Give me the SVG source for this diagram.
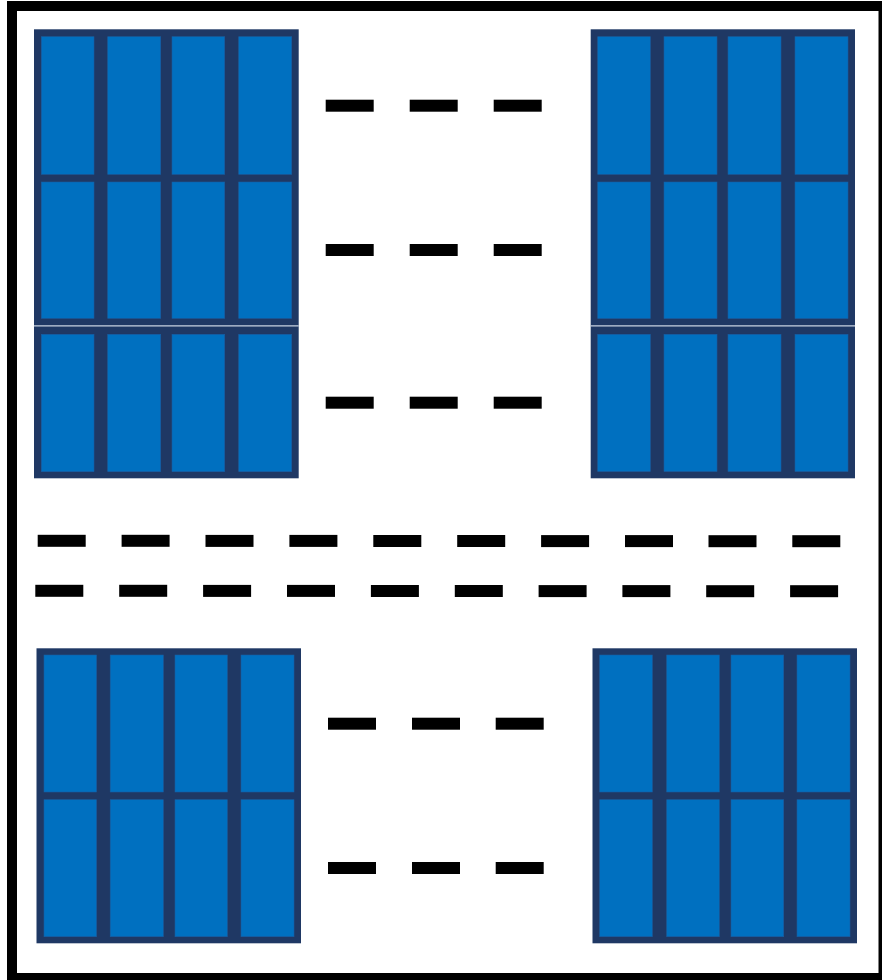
<svg xmlns="http://www.w3.org/2000/svg" width="882" height="980" viewBox="0 0 882 980">
  <style>
    .frame { fill: #1f3864; }
    .cell { fill: #0070c0; stroke: #1a5da0; stroke-width: 0.6; }
    .seam { stroke: #c9d2e0; stroke-width: 1.2; }
    .dash { fill: #000000; }
    .border { fill: none; stroke: #000000; stroke-width: 10; }
  </style>
  <rect x="0" y="0" width="882" height="980" fill="#ffffff"/>
  <rect class="border" x="12" y="6" width="871.5" height="972"/>

  <g id="block-top-left">
    <rect class="frame" x="34" y="29.3" width="264.7" height="449"/>
    <rect class="cell" x="41.3" y="36.7" width="52.7" height="137.6"/>
    <rect class="cell" x="107.7" y="36.7" width="53" height="137.6"/>
    <rect class="cell" x="172" y="36.7" width="52.7" height="137.6"/>
    <rect class="cell" x="238.7" y="36.7" width="53" height="137.6"/>
    <rect class="cell" x="41.3" y="182" width="52.7" height="136.3"/>
    <rect class="cell" x="107.7" y="182" width="53" height="136.3"/>
    <rect class="cell" x="172" y="182" width="52.7" height="136.3"/>
    <rect class="cell" x="238.7" y="182" width="53" height="136.3"/>
    <rect class="cell" x="41.3" y="334.3" width="52.7" height="137.4"/>
    <rect class="cell" x="107.7" y="334.3" width="53" height="137.4"/>
    <rect class="cell" x="172" y="334.3" width="52.7" height="137.4"/>
    <rect class="cell" x="238.7" y="334.3" width="53" height="137.4"/>
    <line class="seam" x1="34" y1="325.9" x2="298.7" y2="325.9"/>
  </g>

  <g id="block-top-right">
    <rect class="frame" x="590.7" y="29.3" width="264.3" height="449"/>
    <rect class="cell" x="597.7" y="36.7" width="52.6" height="137.6"/>
    <rect class="cell" x="664" y="36.7" width="53" height="137.6"/>
    <rect class="cell" x="728" y="36.7" width="53" height="137.6"/>
    <rect class="cell" x="795" y="36.7" width="53" height="137.6"/>
    <rect class="cell" x="597.7" y="182" width="52.6" height="136.5"/>
    <rect class="cell" x="664" y="182" width="53" height="136.5"/>
    <rect class="cell" x="728" y="182" width="53" height="136.5"/>
    <rect class="cell" x="795" y="182" width="53" height="136.5"/>
    <rect class="cell" x="597.7" y="334.3" width="52.6" height="137.2"/>
    <rect class="cell" x="664" y="334.3" width="53" height="137.2"/>
    <rect class="cell" x="728" y="334.3" width="53" height="137.2"/>
    <rect class="cell" x="795" y="334.3" width="53" height="137.2"/>
    <line class="seam" x1="590.7" y1="325.9" x2="855" y2="325.9"/>
  </g>

  <g id="block-bottom-left">
    <rect class="frame" x="36.5" y="648.3" width="264.5" height="295"/>
    <rect class="cell" x="44" y="655" width="52.5" height="137"/>
    <rect class="cell" x="110.2" y="655" width="53.1" height="137"/>
    <rect class="cell" x="175" y="655" width="52.3" height="137"/>
    <rect class="cell" x="241" y="655" width="53" height="137"/>
    <rect class="cell" x="44" y="799.7" width="52.5" height="137"/>
    <rect class="cell" x="110.2" y="799.7" width="53.1" height="137"/>
    <rect class="cell" x="175" y="799.7" width="52.3" height="137"/>
    <rect class="cell" x="241" y="799.7" width="53" height="137"/>
  </g>

  <g id="block-bottom-right">
    <rect class="frame" x="592.5" y="648.3" width="264.5" height="295"/>
    <rect class="cell" x="599.7" y="655" width="52.6" height="137"/>
    <rect class="cell" x="666.7" y="655" width="52.6" height="137"/>
    <rect class="cell" x="731" y="655" width="52.7" height="137"/>
    <rect class="cell" x="797" y="655" width="53" height="137"/>
    <rect class="cell" x="599.7" y="799.7" width="52.6" height="137"/>
    <rect class="cell" x="666.7" y="799.7" width="52.6" height="137"/>
    <rect class="cell" x="731" y="799.7" width="52.7" height="137"/>
    <rect class="cell" x="797" y="799.7" width="53" height="137"/>
  </g>

  <g id="connectors">
    <!-- top dashes -->
    <rect class="dash" x="325.7" y="99.7" width="48" height="12"/>
    <rect class="dash" x="409.7" y="99.7" width="48" height="12"/>
    <rect class="dash" x="493.7" y="99.7" width="48" height="12"/>
    <rect class="dash" x="325.7" y="244" width="48" height="12"/>
    <rect class="dash" x="409.7" y="244" width="48" height="12"/>
    <rect class="dash" x="493.7" y="244" width="48" height="12"/>
    <rect class="dash" x="325.7" y="396.7" width="48" height="12"/>
    <rect class="dash" x="409.7" y="396.7" width="48" height="12"/>
    <rect class="dash" x="493.7" y="396.7" width="48" height="12"/>
    <!-- long rows -->
    <rect class="dash" x="37.7" y="534.8" width="48" height="12"/>
    <rect class="dash" x="121.6" y="534.8" width="48" height="12"/>
    <rect class="dash" x="205.5" y="534.9" width="48" height="12"/>
    <rect class="dash" x="289.4" y="534.9" width="48" height="12"/>
    <rect class="dash" x="373.3" y="535" width="48" height="12"/>
    <rect class="dash" x="457.2" y="535" width="48" height="12"/>
    <rect class="dash" x="541.1" y="535.1" width="48" height="12"/>
    <rect class="dash" x="625" y="535.1" width="48" height="12"/>
    <rect class="dash" x="708.5" y="535.2" width="48" height="12"/>
    <rect class="dash" x="792.3" y="535.2" width="48" height="12"/>
    <rect class="dash" x="35.3" y="584.8" width="48" height="12"/>
    <rect class="dash" x="119.2" y="584.8" width="48" height="12"/>
    <rect class="dash" x="203.1" y="584.9" width="48" height="12"/>
    <rect class="dash" x="287" y="584.9" width="48" height="12"/>
    <rect class="dash" x="370.9" y="585" width="48" height="12"/>
    <rect class="dash" x="454.8" y="585" width="48" height="12"/>
    <rect class="dash" x="538.6" y="585.1" width="48" height="12"/>
    <rect class="dash" x="622.4" y="585.1" width="48" height="12"/>
    <rect class="dash" x="706.2" y="585.2" width="48" height="12"/>
    <rect class="dash" x="790.1" y="585.2" width="48" height="12"/>
    <!-- bottom dashes -->
    <rect class="dash" x="328" y="717.7" width="48" height="12"/>
    <rect class="dash" x="412" y="717.7" width="48" height="12"/>
    <rect class="dash" x="495.7" y="717.7" width="48" height="12"/>
    <rect class="dash" x="328" y="862" width="48" height="12"/>
    <rect class="dash" x="412" y="862" width="48" height="12"/>
    <rect class="dash" x="495.7" y="862" width="48" height="12"/>
  </g>
</svg>
